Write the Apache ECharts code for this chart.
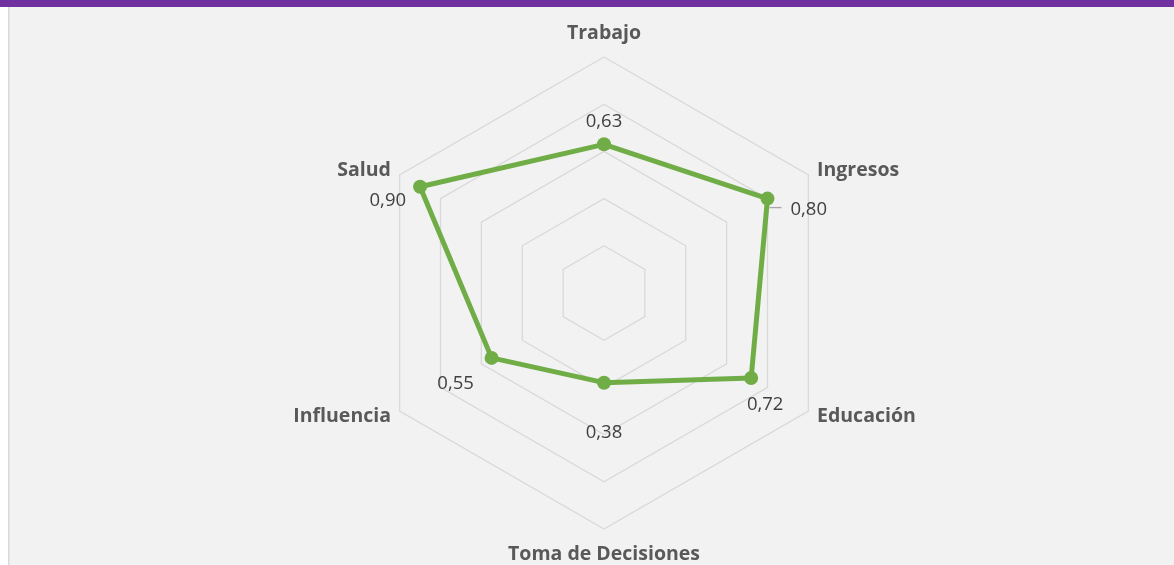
<!DOCTYPE html>
<html>
<head>
<meta charset="utf-8">
<script src="https://cdn.jsdelivr.net/npm/echarts@6/dist/echarts.min.js"></script>
<style>
  html, body { margin: 0; padding: 0; background: #ffffff; }
  #chart { width: 1174px; height: 565px; }
</style>
</head>
<body>
<div id="chart"></div>
<script>
  // dimensions, clockwise from the top (as in the original)
  var categories = ['Trabajo', 'Ingresos', 'Educación', 'Toma de Decisiones', 'Influencia', 'Salud']
  var values = [0.63, 0.80, 0.72, 0.38, 0.55, 0.90]
  var radarMax = 1
  var radarSplits = 5

  // echarts lays indicators out counter-clockwise, so walk the list backwards
  var order = [0, 5, 4, 3, 2, 1]

  // where each value label sits relative to its point
  var labelOffsets = [
    {dx: 0, dy: -23, align: 'center'},
    {dx: 23, dy: 11, align: 'left'},
    {dx: 14, dy: 27, align: 'center'},
    {dx: 0, dy: 50, align: 'center'},
    {dx: -36, dy: 26, align: 'center'},
    {dx: -14, dy: 14, align: 'right'}
  ]

  var font = '"Open Sans", Lato, sans-serif'
  var nameStyle = {color: '#595959', fontSize: 19.5, fontWeight: 'bold', fontFamily: font}
  var chart = echarts.init(document.getElementById('chart'))

  chart.setOption({
    backgroundColor: '#ffffff',
    animation: false,
    radar: {
      center: [604, 293],
      radius: 236,
      startAngle: 90,
      shape: 'polygon',
      splitNumber: radarSplits,
      nameGap: 10,
      axisName: Object.assign({
        formatter: function (name) {
          if (name === categories[0]) return '{up|' + name + '}'
          if (name === categories[3]) return '{down|' + name + '}'
          return '{n|' + name + '}'
        },
        rich: {
          n: nameStyle,
          up: Object.assign({padding: [0, 0, 4, 0]}, nameStyle),
          down: Object.assign({padding: [5, 0, 0, 0]}, nameStyle)
        }
      }, nameStyle),
      axisLine: {show: false},
      axisTick: {show: false},
      axisLabel: {show: false},
      splitArea: {show: false},
      splitLine: {lineStyle: {color: '#d9d9d9', width: 1.3}},
      indicator: order.map(function (i) {
        return {name: categories[i], min: 0, max: radarMax}
      })
    },
    series: [
      {
        type: 'radar',
        symbol: 'circle',
        symbolSize: 14,
        lineStyle: {color: '#70ad47', width: 5},
        itemStyle: {color: '#70ad47'},
        data: [
          {value: order.map(function (i) { return values[i] })}
        ]
      }
    ]
  })

  // frame pieces
  var graphics = [
    {type: 'rect', shape: {x: 8, y: 7, width: 1166, height: 558}, style: {fill: '#f2f2f2'}, z: -10},
    {type: 'rect', shape: {x: 8, y: 7, width: 1.5, height: 558}, style: {fill: '#d9d9d9'}, z: -9},
    {type: 'rect', shape: {x: 0, y: 0, width: 1174, height: 7}, style: {fill: '#7030a0'}, z: -8}
  ]

  // value labels, placed from the radar's own coordinate system
  var radarCS = chart.getModel().getComponent('radar', 0).coordinateSystem
  order.forEach(function (catIdx, axisIdx) {
    var p = radarCS.dataToPoint(values[catIdx], axisIdx)
    var off = labelOffsets[catIdx]
    graphics.push({
      type: 'text',
      x: p[0] + off.dx,
      y: p[1] + off.dy,
      style: {
        text: values[catIdx].toFixed(2).replace('.', ','),
        fill: '#404040',
        font: '18.5px ' + font,
        textAlign: off.align,
        textVerticalAlign: 'middle'
      },
      z: 10
    })
    if (catIdx === 1) {
      // small leader line next to the Ingresos label
      graphics.push({
        type: 'line',
        shape: {x1: p[0] + 2, y1: p[1] + 9, x2: p[0] + 14, y2: p[1] + 9},
        style: {stroke: '#a6a6a6', lineWidth: 1.3},
        z: 9
      })
    }
  })
  chart.setOption({graphic: graphics})
</script>
</body>
</html>
